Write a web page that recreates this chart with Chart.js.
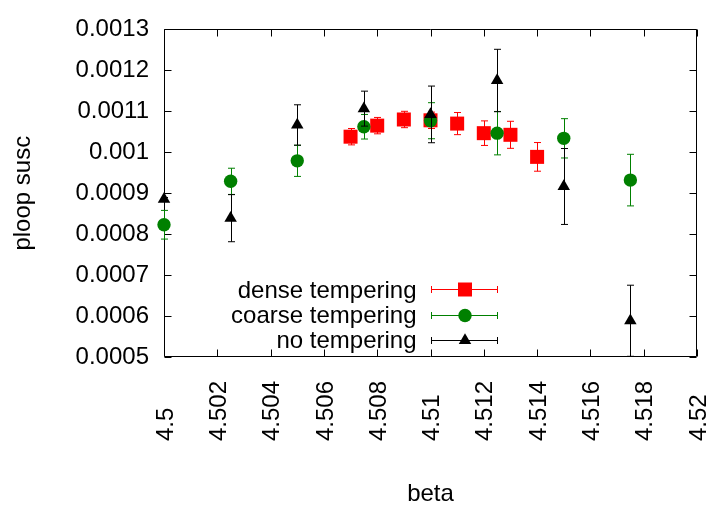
<!DOCTYPE html>
<html><head><meta charset="utf-8">
<script src="https://cdn.jsdelivr.net/npm/chart.js@4/dist/chart.umd.min.js"></script>
<style>html,body{margin:0;padding:0;background:#fff}#wrap{width:707px;height:510px;position:relative}</style>
</head><body><div id="wrap"><canvas id="c" width="707" height="510"></canvas></div>
<script>
const seriesNames = ['dense tempering', 'coarse tempering', 'no tempering'];
const denseBeta = [4.507, 4.508, 4.509, 4.510, 4.511, 4.512, 4.513, 4.514];
const denseSusc = [0.001038, 0.001065, 0.001080, 0.001078, 0.001070, 0.0010466, 0.0010426, 0.0009887];
const denseErr  = [0.000020, 0.000020, 0.000020, 0.000020, 0.000027, 0.000030, 0.000033, 0.000035];
const coarseBeta = [4.5, 4.5025, 4.505, 4.5075, 4.51, 4.5125, 4.515, 4.5175];
const coarseSusc = [0.000823, 0.000929, 0.000979, 0.0010623, 0.001077, 0.0010466, 0.001034, 0.000932];
const coarseErr  = [0.000035, 0.000032, 0.000038, 0.000030, 0.000044, 0.000053, 0.000048, 0.000063];
const noneBeta = [4.5, 4.5025, 4.505, 4.5075, 4.51, 4.5125, 4.515, 4.5175];
const noneSusc = [0.0008855, 0.000839, 0.0010666, 0.0011065, 0.0010924, 0.0011752, 0.0009164, 0.0005885];
const noneErr  = [0.000004, 0.0000575, 0.0000493, 0.0000427, 0.0000692, 0.0000762, 0.0000927, 0.0000868];
const xTickLabels = ['4.5','4.502','4.504','4.506','4.508','4.51','4.512','4.514','4.516','4.518','4.52'];
const yTickLabels = ['0.0005','0.0006','0.0007','0.0008','0.0009','0.001','0.0011','0.0012','0.0013'];

const FONT_FAMILY = '"Liberation Sans", Arial, Helvetica, sans-serif';
const FS = 24;
const FONT = FS + 'px ' + FONT_FAMILY;

function pts(xs, ys) { return xs.map((x, i) => ({x: x, y: ys[i]})); }

const datasets = [
  {label: seriesNames[0], data: pts(denseBeta, denseSusc), err: denseErr, color: '#ff0000',
   pointStyle: 'rect', pointRadius: 9.9, order: 3},
  {label: seriesNames[1], data: pts(coarseBeta, coarseSusc), err: coarseErr, color: '#008000',
   pointStyle: 'circle', pointRadius: 6.7, order: 2},
  {label: seriesNames[2], data: pts(noneBeta, noneSusc), err: noneErr, color: '#000000',
   pointStyle: 'triangle', pointRadius: 7.2, order: 1}
].map(d => Object.assign(d, {
  backgroundColor: d.color, borderColor: d.color, pointBackgroundColor: d.color,
  pointBorderWidth: 0, pointHoverRadius: d.pointRadius, showLine: false, clip: false
}));

function drawErr(ctx, x, y1, y2, a, clipToArea) {
  ctx.beginPath();
  const t = clipToArea ? Math.max(y1, a.top) : y1;
  const b = clipToArea ? Math.min(y2, a.bottom) : y2;
  ctx.moveTo(x, t); ctx.lineTo(x, b);
  if (!clipToArea || y1 >= a.top) { ctx.moveTo(x - 3.5, y1); ctx.lineTo(x + 3.5, y1); }
  if (!clipToArea || y2 <= a.bottom) { ctx.moveTo(x - 3.5, y2); ctx.lineTo(x + 3.5, y2); }
  ctx.stroke();
}

const errPlugin = {
  id: 'errbars',
  beforeDatasetDraw(chart, args) {
    const ds = chart.data.datasets[args.index];
    const ctx = chart.ctx, a = chart.chartArea;
    const xs = chart.scales.x, ys = chart.scales.y;
    ctx.save();
    ctx.strokeStyle = ds.color; ctx.lineWidth = 1;
    ds.data.forEach((p, i) => {
      const x = Math.round(xs.getPixelForValue(p.x)) + 0.5;
      const y1 = ys.getPixelForValue(p.y + ds.err[i]);
      const y2 = ys.getPixelForValue(p.y - ds.err[i]);
      drawErr(ctx, x, y1, y2, a, true);
    });
    ctx.restore();
  }
};

const framePlugin = {
  id: 'frame',
  beforeDatasetsDraw(chart) {
    const ctx = chart.ctx, a = chart.chartArea;
    const xs = chart.scales.x, ys = chart.scales.y;
    const L = Math.round(a.left) + 0.5, R = Math.round(a.right) - 0.5;
    const T = Math.round(a.top) + 0.5, B = Math.round(a.bottom) - 0.5;
    ctx.save();
    ctx.strokeStyle = '#000'; ctx.lineWidth = 1;
    ctx.beginPath();
    ctx.rect(L, T, R - L, B - T);
    const tl = 7;
    xTickLabels.forEach(l => {
      const x = Math.round(xs.getPixelForValue(parseFloat(l))) + 0.5;
      ctx.moveTo(x, B); ctx.lineTo(x, B - tl);
      ctx.moveTo(x, T); ctx.lineTo(x, T + tl);
    });
    yTickLabels.forEach(l => {
      const y = Math.round(ys.getPixelForValue(parseFloat(l))) + 0.5;
      ctx.moveTo(L, y); ctx.lineTo(L + tl, y);
      ctx.moveTo(R, y); ctx.lineTo(R - tl, y);
    });
    ctx.stroke();
    // rotated x tick labels, start-aligned
    ctx.fillStyle = '#000';
    ctx.font = FONT;
    ctx.textAlign = 'left';
    ctx.textBaseline = 'alphabetic';
    xTickLabels.forEach(l => {
      const x = xs.getPixelForValue(parseFloat(l));
      ctx.save();
      ctx.translate(x + 8.6, 441);
      ctx.rotate(-Math.PI / 2);
      ctx.fillText(l, 0, 0);
      ctx.restore();
    });
    ctx.restore();
  }
};

const legendPlugin = {
  id: 'gpLegend',
  afterDraw(chart) {
    const ctx = chart.ctx;
    const rows = [289, 314.5, 339.5];
    ctx.save();
    ctx.font = FONT;
    ctx.textAlign = 'right';
    ctx.textBaseline = 'alphabetic';
    chart.data.datasets.forEach((ds, i) => {
      const y = rows[i];
      ctx.fillStyle = '#000';
      ctx.fillText(ds.label, 416.5, y + 8.5);
      ctx.strokeStyle = ds.color; ctx.lineWidth = 1;
      const yy = Math.round(y) + 0.5;
      ctx.beginPath();
      ctx.moveTo(431.5, yy); ctx.lineTo(497.5, yy);
      ctx.moveTo(431.5, yy - 3.5); ctx.lineTo(431.5, yy + 3.5);
      ctx.moveTo(497.5, yy - 3.5); ctx.lineTo(497.5, yy + 3.5);
      ctx.stroke();
      ctx.fillStyle = ds.color;
      Chart.helpers.drawPoint(ctx, {pointStyle: ds.pointStyle, radius: ds.pointRadius, rotation: 0, borderWidth: 0}, 465, yy);
    });
    ctx.restore();
  }
};

new Chart(document.getElementById('c'), {
  type: 'scatter',
  data: {datasets: datasets},
  options: {
    responsive: false,
    devicePixelRatio: 1,
    animation: false,
    events: [],
    layout: {padding: {top: 16, right: 10, bottom: 0, left: 0}},
    plugins: {legend: {display: false}, tooltip: {enabled: false}},
    scales: {
      x: {
        type: 'linear', min: 4.5, max: 4.52,
        ticks: {display: false, stepSize: 0.002},
        grid: {display: false, drawTicks: false},
        border: {display: false},
        title: {display: true, text: 'beta', color: '#000', font: {family: FONT_FAMILY, size: FS}, padding: {top: 0, bottom: 1}},
        afterFit(s) { s.height = 153; }
      },
      y: {
        type: 'linear', min: 0.0005, max: 0.0013,
        ticks: {
          stepSize: 0.0001, padding: 15, color: '#000',
          font: {family: FONT_FAMILY, size: FS},
          callback: (v) => { const l = yTickLabels.find(t => Math.abs(parseFloat(t) - v) < 1e-9); return l === undefined ? '' : l; }
        },
        grid: {display: false, drawTicks: false},
        border: {display: false},
        title: {display: true, text: 'ploop susc', color: '#000', font: {family: FONT_FAMILY, size: FS}, padding: {top: 9, bottom: 0}},
        afterFit(s) { s.width = 164; }
      }
    }
  },
  plugins: [framePlugin, errPlugin, legendPlugin]
});
</script>
</body></html>
